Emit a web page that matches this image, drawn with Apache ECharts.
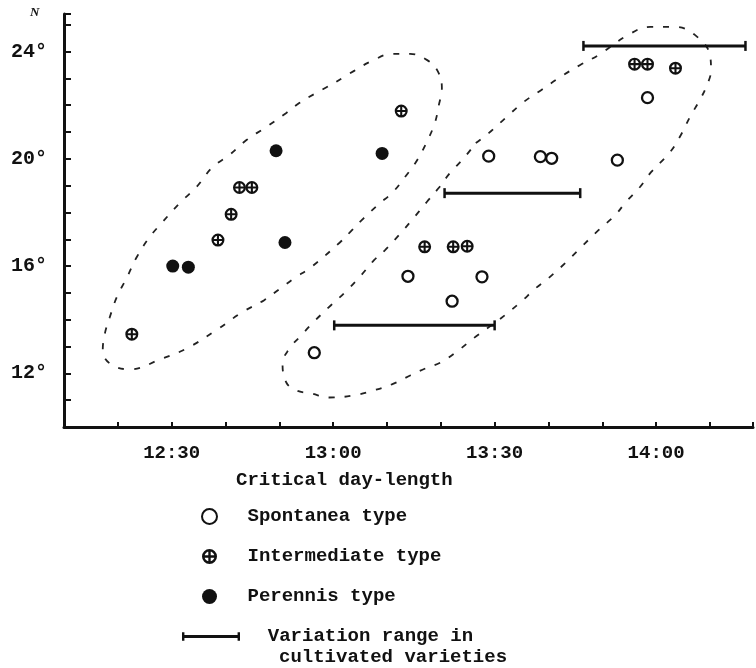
<!DOCTYPE html>
<html>
<head>
<meta charset="utf-8">
<title>Critical day-length</title>
<script src="https://cdn.jsdelivr.net/npm/echarts@6/dist/echarts.min.js"></script>
</head>
<body style="margin:0;background:#fff;">
<div id="main" style="width:756px;height:668px;"></div>
<script>
// x = critical day-length, minutes after 12:00 ; y = latitude N (degrees)
var spontaneaX = [56.5, 88.9, 98.5, 100.6, 112.8, 118.4, 73.9, 87.65, 82.1];
var spontaneaY = [12.77, 20.1, 20.08, 20.02, 19.95, 22.28, 15.62, 15.6, 14.69];
var intermX = [22.6, 38.6, 41.05, 42.6, 44.9, 72.65, 77.0, 82.3, 84.9, 116.0, 118.4, 123.6];
var intermY = [13.46, 16.97, 17.93, 18.93, 18.93, 21.78, 16.72, 16.72, 16.74, 23.53, 23.53, 23.38];
var perennisX = [30.2, 33.1, 49.4, 51.05, 69.1];
var perennisY = [16.0, 15.96, 20.3, 16.88, 20.2];

// variation range in cultivated varieties
var rangeFrom = [60.2, 80.7, 106.5];
var rangeTo = [90, 105.9, 136.6];
var rangeLat = [13.79, 18.72, 24.21];

// dashed outlines round the two groups
var hullLeftX = [60.6,63.9,67.2,70.9,74.3,77.4,79.4,80.2,79.6,78.9,77.4,75.6,73.5,71.1,68.5,65.7,63.5,61.3,55.9,52.8,50.0,47.2,43.1,38.3,32.8,28.3,22.2,18.5,17.2,17.6,18.5,19.8,21.7,23.5,25.9,28.3,31.5,34.6,37.6,40.7,43.9,47.6,51.3,53.7,56.9,60.6];
var hullLeftY = [22.87,23.28,23.65,23.91,23.91,23.69,23.28,22.64,21.97,21.34,20.63,19.95,19.36,18.76,18.31,17.79,17.34,16.89,15.96,15.55,15.14,14.73,14.28,13.61,12.93,12.56,12.15,12.37,12.86,13.49,14.09,14.84,15.58,16.33,17.08,17.64,18.35,18.95,19.69,20.14,20.7,21.19,21.71,22.08,22.46,22.87];
var hullRightX = [86.5,88.9,92.0,95.4,98.7,102.2,105.9,109.3,114.8,118.9,123.5,127.2,130.0,130.2,129.3,128.1,126.3,124.6,122.6,119.1,117.0,114.4,112.4,109.3,106.1,103.1,100.0,97.6,94.8,90.7,86.1,83.3,80.0,77.2,74.4,70.9,67.6,63.9,59.3,55.9,53.1,51.3,50.6,51.9,53.7,56.7,59.6,62.4,65.2,67.6,69.6,72.2,74.6,77.4,79.6,81.7,84.3,86.5];
var hullRightY = [20.59,20.96,21.52,22.12,22.57,23.05,23.5,23.87,24.62,24.92,24.92,24.62,23.87,23.31,22.68,22.19,21.56,20.89,20.25,19.51,18.95,18.39,17.9,17.34,16.71,16.11,15.55,15.17,14.65,13.98,13.31,12.86,12.41,12.19,11.93,11.59,11.37,11.18,11.1,11.25,11.37,11.66,12.37,12.93,13.34,13.98,14.54,15.06,15.66,16.22,16.59,17.15,17.71,18.39,18.91,19.47,20.03,20.59];

var typeNames = ['Spontanea type', 'Intermediate type', 'Perennis type'];
var rangeName = 'Variation range in';

function zip(xs, ys) {
    var out = [];
    for (var i = 0; i < xs.length; i++) out.push([xs[i], ys[i]]);
    return out;
}

var ink = '#111';
var mono = '"Liberation Mono", "DejaVu Sans Mono", monospace';
// circle with an upright cross: ring (outer cw, inner ccw) + two cw bars
var crossCircle = 'path://M0,-10A10,10 0 1,1 0,10A10,10 0 1,1 0,-10Z' +
    'M0,-6.6A6.6,6.6 0 1,0 0,6.6A6.6,6.6 0 1,0 0,-6.6Z' +
    'M-1.6,-7H1.6V7H-1.6Z M-7,-1.6H7V1.6H-7Z';
var rangeIcon = 'path://M0,0H2.5V3H57.5V0H60V9H57.5V6H2.5V9H0Z';

var chart = echarts.init(document.getElementById('main'));

var series = [];
series.push({
    type: 'line', data: zip(hullLeftX, hullLeftY), smooth: 0.4, showSymbol: false, silent: true,
    lineStyle: { color: '#222', width: 1.8, type: [6, 10] }, z: 1
});
series.push({
    type: 'line', data: zip(hullRightX, hullRightY), smooth: 0.4, showSymbol: false, silent: true,
    lineStyle: { color: '#222', width: 1.8, type: [6, 10] }, z: 1
});
for (var i = 0; i < rangeFrom.length; i++) {
    series.push({
        name: rangeName, type: 'line',
        data: [[rangeFrom[i], rangeLat[i]], [rangeTo[i], rangeLat[i]]],
        symbol: 'rect', symbolSize: [2.5, 10], showSymbol: true,
        lineStyle: { color: ink, width: 3 }, itemStyle: { color: ink }, z: 2
    });
}
series.push({
    name: typeNames[0], type: 'scatter', data: zip(spontaneaX, spontaneaY),
    symbol: 'circle', symbolSize: 11,
    itemStyle: { color: '#fff', borderColor: ink, borderWidth: 2.3, opacity: 1 }, z: 3
});
series.push({
    name: typeNames[1], type: 'scatter', data: zip(intermX, intermY),
    symbol: crossCircle, symbolSize: 13, symbolKeepAspect: true,
    itemStyle: { color: ink, opacity: 1 }, z: 3
});
series.push({
    name: typeNames[2], type: 'scatter', data: zip(perennisX, perennisY),
    symbol: 'circle', symbolSize: 13,
    itemStyle: { color: ink, opacity: 1 }, z: 3
});

var option = {
    backgroundColor: '#fff',
    animation: false,
    grid: { left: 64, right: 0, top: 14, bottom: 241 },
    xAxis: {
        type: 'value', min: 10, max: 138, interval: 10,
        splitLine: { show: false },
        axisLine: { lineStyle: { color: ink, width: 3 } },
        axisTick: { inside: true, length: 5, lineStyle: { color: ink, width: 2 } },
        axisLabel: {
            margin: 17, color: ink, fontFamily: mono, fontWeight: 'bold', fontSize: 19,
            formatter: function (v) {
                if (v % 30 !== 0) return '';
                var h = 12 + Math.floor(v / 60), m = v % 60;
                return h + ':' + (m < 10 ? '0' : '') + m;
            }
        }
    },
    yAxis: {
        type: 'value', min: 10, max: 25.4, interval: 1,
        splitLine: { show: false },
        axisLine: { show: true, lineStyle: { color: ink, width: 3 } },
        axisTick: { show: true, inside: true, length: 7, lineStyle: { color: ink, width: 2 } },
        axisLabel: {
            margin: 17, color: ink, fontFamily: mono, fontWeight: 'bold', fontSize: 20,
            formatter: function (v) {
                return (v >= 12 && v % 4 === 0) ? v + '°' : '';
            }
        }
    },
    legend: [{
        data: typeNames,
        orient: 'vertical', left: 196, top: 502,
        itemWidth: 66, itemHeight: 15, itemGap: 21,
        selectedMode: false,
        itemStyle: { opacity: 1 },
        textStyle: { color: ink, fontFamily: mono, fontWeight: 'bold', fontSize: 19 }
    }, {
        data: [{ name: rangeName, icon: rangeIcon }],
        left: 177, top: 622,
        itemWidth: 58, itemHeight: 9,
        selectedMode: false,
        formatter: function (n) { return '  ' + n; },
        textStyle: { color: ink, fontFamily: mono, fontWeight: 'bold', fontSize: 19 }
    }],
    graphic: [
        { type: 'text', left: 30, top: 6, style: { text: 'N', fill: ink, font: 'bold italic 13px "Liberation Serif", serif' } },
        { type: 'text', left: 236, top: 471, style: { text: 'Critical day-length', fill: ink, font: 'bold 19px ' + mono } },
        { type: 'text', left: 279, top: 648, style: { text: 'cultivated varieties', fill: ink, font: 'bold 19px ' + mono } }
    ],
    series: series
};

chart.setOption(option);
</script>
</body>
</html>
